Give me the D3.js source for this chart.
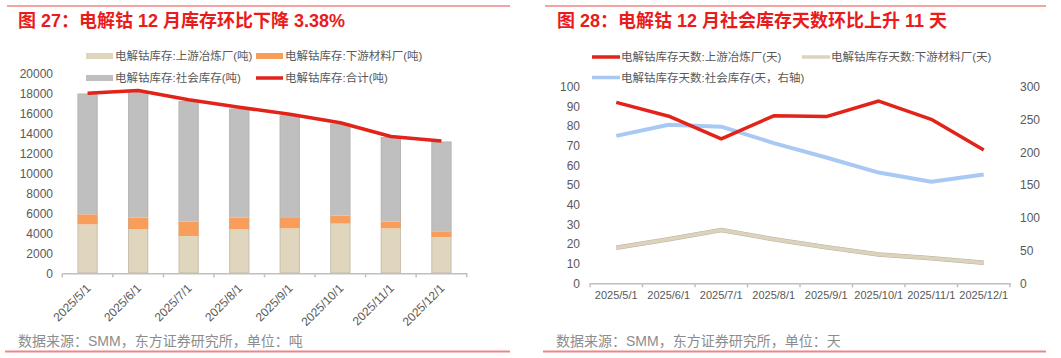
<!DOCTYPE html>
<html><head><meta charset="utf-8">
<script src="https://cdn.jsdelivr.net/npm/d3@7/dist/d3.min.js"></script>
<style>
html,body{margin:0;padding:0;background:#fff;}
svg{display:block;font-family:"Liberation Sans","Noto Sans CJK SC",sans-serif;}
</style></head>
<body><svg id="c" width="1061" height="358"></svg>
<script>
// ---------- data ----------
const months = ["2025/5/1","2025/6/1","2025/7/1","2025/8/1","2025/9/1","2025/10/1","2025/11/1","2025/12/1"];
// left chart (吨)
const upstreamStock   = [4900, 4400, 3730, 4400, 4500, 4970, 4500, 3630];
const downstreamStock = [1000, 1170, 1440, 1170, 1030,  800,  670,  570];
const socialStock     = [12070,12660,12060,10900,10270, 9200, 8460, 8970];
const totalStock      = [18000,18280,17350,16600,15900,15050,13680,13220];
const leftTicks = [0,2000,4000,6000,8000,10000,12000,14000,16000,18000,20000];
// right chart (天)
const upstreamDays   = [92, 85, 73.5, 85.2, 84.8, 92.7, 83.4, 67.8];
const downstreamDays = [18.1, 22.4, 27.1, 22.4, 18.3, 14.7, 12.8, 10.5];
const socialDays     = [225, 242, 239, 214, 192, 169, 155, 166];
const rightLeftTicks  = [0,10,20,30,40,50,60,70,80,90,100];
const rightRightTicks = [0,50,100,150,200,250,300];

const titles = ["图 27：电解钴 12 月库存环比下降 3.38%", "图 28：电解钴 12 月社会库存天数环比上升 11 天"];
const sources = ["数据来源：SMM，东方证券研究所，单位：吨", "数据来源：SMM，东方证券研究所，单位：天"];
const leftLegend = ["电解钴库存:上游冶炼厂(吨)","电解钴库存:下游材料厂(吨)","电解钴库存:社会库存(吨)","电解钴库存:合计(吨)"];
const rightLegend = ["电解钴库存天数:上游冶炼厂(天)","电解钴库存天数:下游材料厂(天)","电解钴库存天数:社会库存(天，右轴)"];

// ---------- styles ----------
const C = {beige:"#e0d6bd", orange:"#f99d5b", gray:"#bfbfbf", red:"#e2231a", blue:"#a9c9f4", beigeLine:"#dcd3bc",
  text:"#595959", axis:"#bfbfbf", title:"#ea1b1b", rule:"#f08585", src:"#8c8c8c"};

const svg = d3.select("#c");

// frame rules, titles, sources
[[7,510,18],[545,1046,557]].forEach((r,i)=>{
  svg.append("line").attr("x1",r[0]).attr("x2",r[1]).attr("y1",6).attr("y2",6).attr("stroke",C.rule).attr("stroke-width",1.5);
  svg.append("line").attr("x1",r[0]-2).attr("x2",r[1]).attr("y1",351.5).attr("y2",351.5).attr("stroke",C.rule).attr("stroke-width",2);
  svg.append("text").attr("x",r[2]).attr("y",27).attr("fill",C.title).attr("font-size",18).attr("font-weight","bold").text(titles[i]);
  svg.append("text").attr("x",i===0?18:556).attr("y",345.5).attr("fill",C.src).attr("font-size",14).text(sources[i]);
});

// ---------- left chart ----------
{
  const g = svg.append("g");
  const x = d3.scaleBand().domain(months).range([62.3,466.7]).paddingInner(0.6).paddingOuter(0.3);
  const y = d3.scaleLinear().domain([0,20000]).range([273.3,73.3]);
  const rows = months.map((m,i)=>({m, up:upstreamStock[i], down:downstreamStock[i], soc:socialStock[i]}));
  const stack = d3.stack().keys(["up","down","soc"])(rows);
  const colors = {up:C.beige, down:C.orange, soc:C.gray};
  g.selectAll("g.s").data(stack).join("g").attr("fill",d=>colors[d.key])
    .selectAll("rect").data(d=>d).join("rect")
    .attr("x",d=>x(d.data.m)).attr("width",x.bandwidth())
    .attr("y",d=>y(d[1])).attr("height",d=>y(d[0])-y(d[1]));
  // bar edges
  g.selectAll("rect.edge").data(rows).join("rect").attr("class","edge")
    .attr("x",d=>x(d.m)+0.5).attr("width",x.bandwidth()-1)
    .attr("y",(d,i)=>y(d.up+d.down+d.soc)+0.5).attr("height",d=>y(0)-y(d.up+d.down+d.soc)-1)
    .attr("fill","none").attr("stroke","#b5b0a5").attr("stroke-opacity",0.5).attr("stroke-width",1);
  // y axis
  const ya = g.append("g").attr("transform","translate(56,0)")
    .call(d3.axisLeft(y).tickValues(leftTicks).tickSize(0).tickPadding(3).tickFormat(d3.format("d")));
  ya.select(".domain").remove();
  ya.selectAll("text").attr("fill",C.text).attr("font-size",12).attr("font-family",null);
  // x axis
  const xa = g.append("g").attr("transform",`translate(0,${y(0)})`)
    .call(d3.axisBottom(x).tickSize(0).tickPadding(6));
  xa.select(".domain").attr("stroke",C.axis).attr("stroke-width",1.5);
  xa.selectAll("text").attr("fill",C.text).attr("font-size",12).attr("font-family",null)
    .attr("text-anchor","end").attr("dy","0.3em")
    .attr("transform","translate(-3,9) rotate(-45)");
  const step = x.step(), x0 = x.range()[0];
  g.selectAll("line.tk").data(d3.range(months.length+1)).join("line").attr("class","tk")
    .attr("x1",i=>x0+i*step).attr("x2",i=>x0+i*step).attr("y1",y(0)).attr("y2",y(0)+4)
    .attr("stroke",C.axis).attr("stroke-width",1.5);
  // total line
  g.append("path").datum(totalStock)
    .attr("d",d3.line().x((d,i)=>x(months[i])+x.bandwidth()/2).y(d=>y(d)))
    .attr("fill","none").attr("stroke",C.red).attr("stroke-width",3.5).attr("stroke-linejoin","round");
  // legend
  const items = [
    {t:leftLegend[0],c:C.beige,type:"rect",x:86,y:56},
    {t:leftLegend[1],c:C.orange,type:"rect",x:256,y:56},
    {t:leftLegend[2],c:C.gray,type:"rect",x:86,y:78},
    {t:leftLegend[3],c:C.red,type:"line",x:256,y:78}];
  items.forEach(it=>{
    if(it.type==="rect") g.append("rect").attr("x",it.x).attr("y",it.y-3).attr("width",27).attr("height",6).attr("fill",it.c);
    else g.append("line").attr("x1",it.x).attr("x2",it.x+27).attr("y1",it.y).attr("y2",it.y).attr("stroke",it.c).attr("stroke-width",3.5);
    g.append("text").attr("x",it.x+29).attr("y",it.y).attr("dy","0.36em").attr("font-size",11.5).attr("fill",C.text).text(it.t);
  });
}

// ---------- right chart ----------
{
  const g = svg.append("g");
  const x = d3.scaleBand().domain(months).range([590,1010]);
  const yL = d3.scaleLinear().domain([0,100]).range([283.3,86.7]);
  const yR = d3.scaleLinear().domain([0,300]).range([283.3,86.7]);
  const ya = g.append("g").attr("transform","translate(583,0)")
    .call(d3.axisLeft(yL).tickValues(rightLeftTicks).tickSize(0).tickPadding(3));
  ya.select(".domain").remove();
  ya.selectAll("text").attr("fill",C.text).attr("font-size",12).attr("font-family",null);
  const yb = g.append("g").attr("transform","translate(1017,0)")
    .call(d3.axisRight(yR).tickValues(rightRightTicks).tickSize(0).tickPadding(3));
  yb.select(".domain").remove();
  yb.selectAll("text").attr("fill",C.text).attr("font-size",12).attr("font-family",null);
  const xa = g.append("g").attr("transform",`translate(0,${yL(0)})`)
    .call(d3.axisBottom(x).tickSize(0).tickPadding(8));
  xa.select(".domain").attr("stroke",C.axis).attr("stroke-width",1.5);
  xa.selectAll("text").attr("fill",C.text).attr("font-size",11).attr("font-family",null);
  const step = x.step(), x0 = x.range()[0];
  g.selectAll("line.tk").data(d3.range(months.length+1)).join("line").attr("class","tk")
    .attr("x1",i=>x0+i*step).attr("x2",i=>x0+i*step).attr("y1",yL(0)).attr("y2",yL(0)+4)
    .attr("stroke",C.axis).attr("stroke-width",1.5);
  const cx = i=>x(months[i])+x.bandwidth()/2;
  const series = [
    {d:downstreamDays,s:yL,c:C.beigeLine,w:3.5},
    {d:socialDays,s:yR,c:C.blue,w:4},
    {d:upstreamDays,s:yL,c:C.red,w:3.5}];
  series.forEach(se=>{
    if(se.c===C.beigeLine){
      g.append("path").datum(se.d).attr("d",d3.line().x((d,i)=>cx(i)).y(d=>se.s(d)))
        .attr("fill","none").attr("stroke","#b9b2a2").attr("stroke-width",se.w+1);
    }
    g.append("path").datum(se.d).attr("d",d3.line().x((d,i)=>cx(i)).y(d=>se.s(d)))
      .attr("fill","none").attr("stroke",se.c).attr("stroke-width",se.w).attr("stroke-linejoin","round");
  });
  const items = [
    {t:rightLegend[0],c:C.red,x:592,y:57},
    {t:rightLegend[1],c:C.beigeLine,x:802,y:57},
    {t:rightLegend[2],c:C.blue,x:592,y:77.5}];
  items.forEach(it=>{
    g.append("line").attr("x1",it.x).attr("x2",it.x+28).attr("y1",it.y).attr("y2",it.y).attr("stroke",it.c).attr("stroke-width",3.5);
    g.append("text").attr("x",it.x+29).attr("y",it.y).attr("dy","0.36em").attr("font-size",11.5).attr("fill",C.text).text(it.t);
  });
}
</script></body></html>
